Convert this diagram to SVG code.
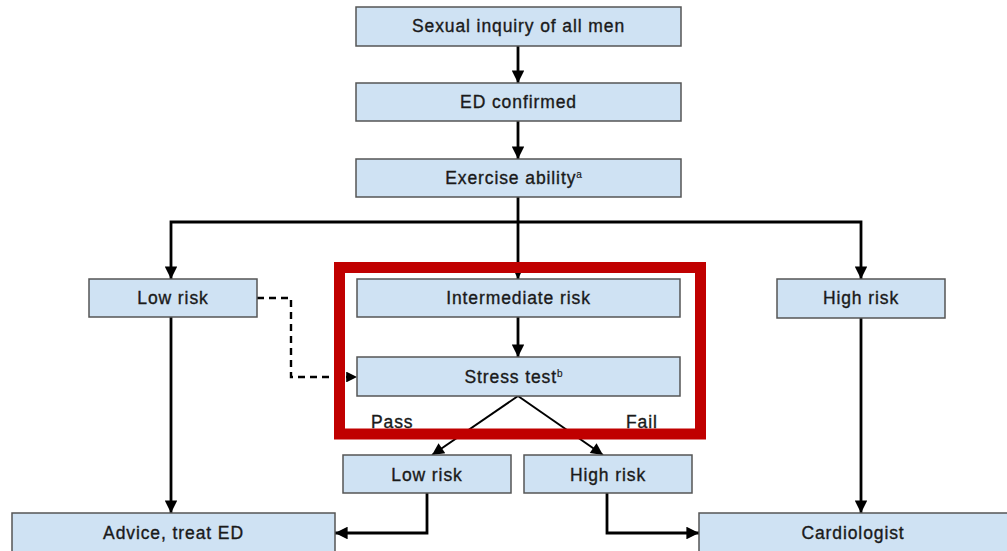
<svg xmlns="http://www.w3.org/2000/svg" width="1007" height="551" viewBox="0 0 1007 551">
<style>
.box{fill:#cfe2f3;stroke:#555;stroke-width:1.5}
.t{font-family:"Liberation Sans",Arial,sans-serif;font-size:17.5px;letter-spacing:0.9px;fill:#1a1a1a;stroke:#1a1a1a;stroke-width:0.35;text-anchor:middle}
.l{font-family:"Liberation Sans",Arial,sans-serif;font-size:17.5px;letter-spacing:0.9px;fill:#1a1a1a;stroke:#1a1a1a;stroke-width:0.35}
.c{fill:none;stroke:#000;stroke-width:2.8}
.d{fill:none;stroke:#000;stroke-width:2.4;stroke-dasharray:7,5}
.thin{fill:none;stroke:#000;stroke-width:2}
</style>
<defs>
<marker id="ah" viewBox="0 0 10 10" refX="10" refY="5" markerWidth="4.5" markerHeight="4.5" orient="auto" markerUnits="strokeWidth">
<path d="M0,0 L10,5 L0,10 z" fill="#000"/>
</marker>
<marker id="ah2" viewBox="0 0 10 10" refX="10" refY="5" markerWidth="7" markerHeight="6" orient="auto" markerUnits="strokeWidth">
<path d="M0,0 L10,5 L0,10 z" fill="#000"/>
</marker>
</defs>
<g id="connectors">
<path class="c" d="M518,46 V83" marker-end="url(#ah)"/>
<path class="c" d="M518,121 V159" marker-end="url(#ah)"/>
<path class="c" d="M518,197 V279" marker-end="url(#ah)"/>
<path class="c" d="M518,222 H171 V279" marker-end="url(#ah)"/>
<path class="c" d="M518,222 H861 V279" marker-end="url(#ah)"/>
<path class="c" d="M518,317 V357" marker-end="url(#ah)"/>
<path class="d" d="M257,298 H291 V377 H357" marker-end="url(#ah)"/>
<path class="thin" d="M518,396 L432,455" marker-end="url(#ah2)"/>
<path class="thin" d="M518,396 L603,455" marker-end="url(#ah2)"/>
<path class="c" d="M171,317 V513" marker-end="url(#ah)"/>
<path class="c" d="M861,318 V513" marker-end="url(#ah)"/>
<path class="c" d="M427,493 V533 H335" marker-end="url(#ah)"/>
<path class="c" d="M607,493 V533 H699" marker-end="url(#ah)"/>
</g>
<rect x="339.5" y="267.5" width="361" height="166.5" fill="none" stroke="#c00000" stroke-width="11"/>
<g id="n1"><rect class="box" x="356" y="7" width="325" height="39"/><text class="t" x="518.5" y="32">Sexual inquiry of all men</text></g>
<g id="n2"><rect class="box" x="356" y="83" width="325" height="38"/><text class="t" x="518.5" y="108">ED confirmed</text></g>
<g id="n3"><rect class="box" x="356" y="159" width="325" height="38"/><text class="t" x="514" y="184">Exercise ability<tspan font-size="10" stroke-width="0.2" dy="-6">a</tspan></text></g>
<g id="n4"><rect class="box" x="89" y="279" width="168" height="38"/><text class="t" x="173" y="304">Low risk</text></g>
<g id="n5"><rect class="box" x="357" y="279" width="323" height="38"/><text class="t" x="518.5" y="304">Intermediate risk</text></g>
<g id="n6"><rect class="box" x="777" y="279" width="168" height="39"/><text class="t" x="861" y="304">High risk</text></g>
<g id="n7"><rect class="box" x="357" y="357" width="323" height="39"/><text class="t" x="514" y="383">Stress test<tspan font-size="10" stroke-width="0.2" dy="-6">b</tspan></text></g>
<text class="l" x="371" y="428">Pass</text>
<text class="l" x="626" y="428">Fail</text>
<g id="n8"><rect class="box" x="343" y="455" width="168" height="38"/><text class="t" x="427" y="481">Low risk</text></g>
<g id="n9"><rect class="box" x="524" y="455" width="168" height="38"/><text class="t" x="608" y="481">High risk</text></g>
<g id="n10"><rect class="box" x="12" y="513" width="323" height="50"/><text class="t" x="173.5" y="539">Advice, treat ED</text></g>
<g id="n11"><rect class="box" x="699" y="513" width="320" height="50"/><text class="t" x="853" y="539">Cardiologist</text></g>
</svg>
